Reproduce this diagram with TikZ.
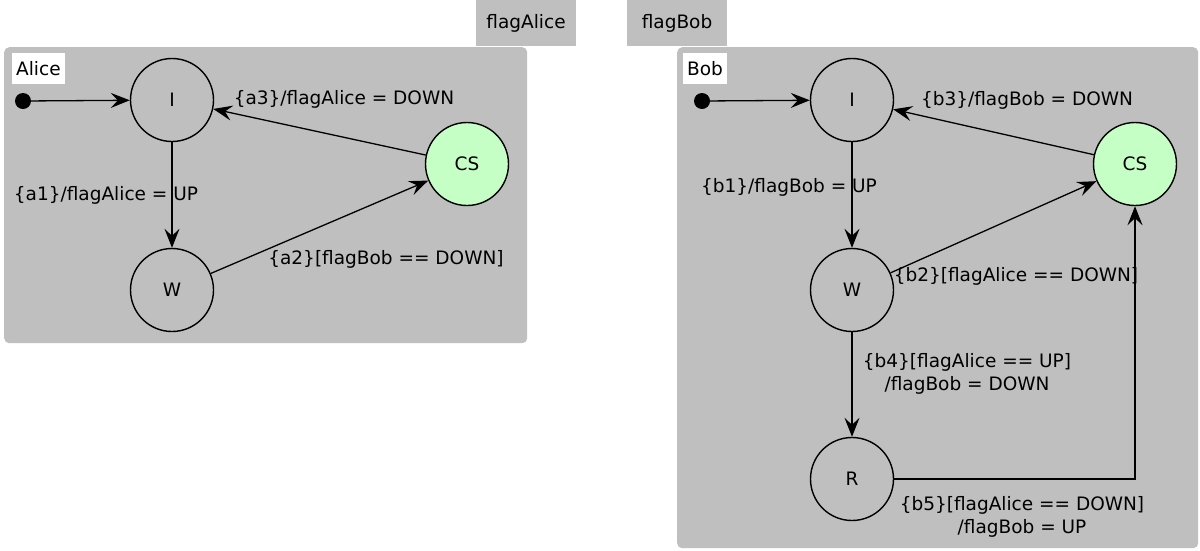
\documentclass[tikz,border=0pt]{standalone}
\usepackage{fontspec}
\setmainfont{DejaVu Sans}
\usetikzlibrary{arrows.meta}
\definecolor{boxgray}{RGB}{191,191,191}
\definecolor{csgreen}{RGB}{198,255,198}
\begin{document}
\begin{tikzpicture}[x=1pt,y=-1pt,
  every node/.style={font=\fontsize{18.5}{23}\selectfont},
  state/.style={circle, draw, line width=1.4pt, minimum size=83pt, inner sep=0pt},
  crit/.style={state, fill=csgreen},
  initdot/.style={circle, fill=black, minimum size=16pt, inner sep=0pt},
  tr/.style={line width=1.3pt, -{Stealth[length=19pt,width=15pt,inset=7pt]}},
  lab/.style={anchor=base, inner sep=0pt},
  mlab/.style={anchor=center, inner sep=0pt, align=center},
  tag/.style={fill=boxgray, minimum width=100pt, minimum height=46pt, anchor=north, inner sep=0pt},
  region/.style={fill=boxgray, rounded corners=5pt, anchor=north west, inner sep=0pt},
  title/.style={fill=white, anchor=north west, minimum height=31pt, inner xsep=4pt, inner ysep=0pt}
]
\useasboundingbox (0,0) rectangle (1200,550);

% flag variables
\node[tag] (tagA) at (526,0) {flagAlice};
\node[tag] (tagB) at (677,0) {flagBob};

% regions
\node[region, minimum width=523pt, minimum height=296pt] (boxA) at (4,47) {};
\node[region, minimum width=521pt, minimum height=501pt] (boxB) at (677,47) {};

\node[title] (titleA) at (12,53) {Alice};
\node[title] (titleB) at (683,53) {Bob};

% Alice
\node[initdot] (aInit) at (23,101) {};
\node[state] (aI) at (172,100) {I};
\node[state] (aW) at (172,290) {W};
\node[crit] (aCS) at (467,164) {CS};

\draw[tr] (aInit) -- (aI);
\draw[tr] (aI) -- (aW);
\draw[tr] (aW) -- (aCS);
\draw[tr] (aCS) -- (aI);

\node[lab] (la1) at (106,200) {\{a1\}/flagAlice = UP};
\node[lab] (la3) at (344,104) {\{a3\}/flagAlice = DOWN};
\node[lab] (la2) at (386,264) {\{a2\}[flagBob == DOWN]};

% Bob
\node[initdot] (bInit) at (702,101) {};
\node[state] (bI) at (852,100) {I};
\node[state] (bW) at (852,290) {W};
\node[state] (bR) at (852,479) {R};
\node[crit] (bCS) at (1135,164) {CS};

\draw[tr] (bInit) -- (bI);
\draw[tr] (bI) -- (bW);
\draw[tr] (bW) -- (bCS);
\draw[tr] (bCS) -- (bI);
\draw[tr] (bW) -- (bR);
\draw[tr] (bR) -| (bCS);

\node[lab] (lb1) at (789,192) {\{b1\}/flagBob = UP};
\node[lab] (lb3) at (1027,105) {\{b3\}/flagBob = DOWN};
\node[lab] (lb2) at (1016,281) {\{b2\}[flagAlice == DOWN]};
\node[mlab] (lb4) at (967,374) {\{b4\}[flagAlice == UP]\\/flagBob = DOWN};
\node[mlab] (lb5) at (1022,517) {\{b5\}[flagAlice == DOWN]\\/flagBob = UP};
\end{tikzpicture}
\end{document}
